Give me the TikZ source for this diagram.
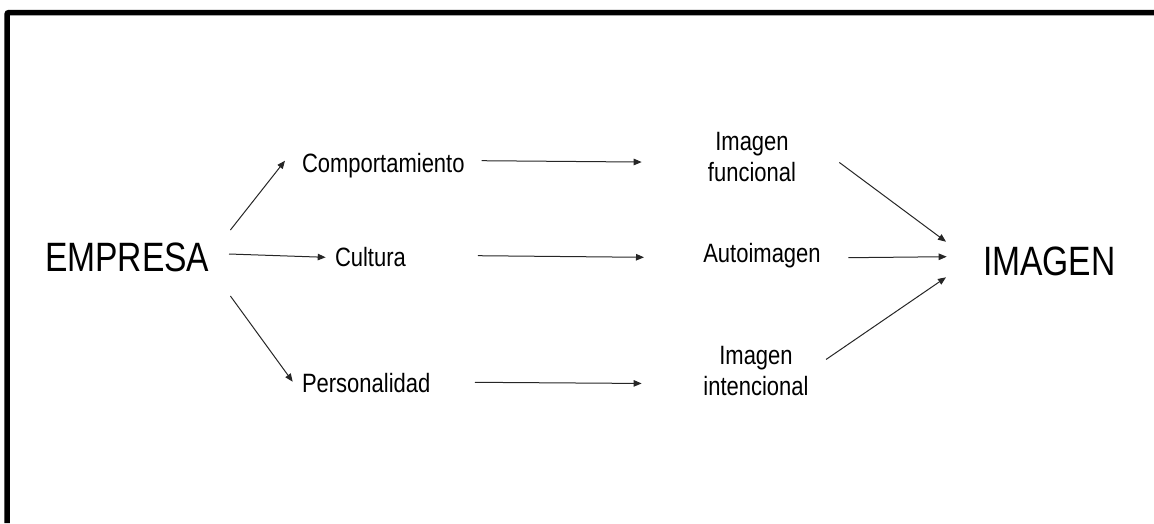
\documentclass[tikz,border=0pt]{standalone}
\usepackage{fontspec}
\setmainfont{Liberation Sans}
\newfontfamily\smallfam[FakeStretch=0.83]{Liberation Sans}
\newfontfamily\bigfam[FakeStretch=0.82]{Liberation Sans}
\usetikzlibrary{arrows.meta,calc}
\begin{document}
\begin{tikzpicture}[x=1pt,y=-1pt,
  lbl/.style={inner sep=0pt,outer sep=0pt,font=\smallfam\fontsize{26.5}{31}\selectfont},
  lbl2/.style={lbl,align=center},
  big/.style={inner sep=0pt,outer sep=0pt,font=\bigfam\fontsize{41}{48}\selectfont},
  arr/.style={draw=black!85,line width=1pt,-{Triangle[length=8pt,width=6.5pt]}},
  frame/.style={line width=5.5pt,rounded corners=2pt}]
\useasboundingbox (0,0) rectangle (1154,523);
\draw[frame] (7,523) -- (7,12.5) -- (1154,12.5);
% nodes
\node[big,anchor=base west] (emp) at (45,271.7) {EMPRESA};
\node[big,anchor=base west] (img) at (983,275) {IMAGEN};
\node[lbl,anchor=base west] (comp) at (302,172.3) {Comportamiento};
\node[lbl,anchor=base west] (cult) at (335,266) {Cultura};
\node[lbl,anchor=base west] (pers) at (302,392) {Personalidad};
\node[lbl2,anchor=north] (func) at (752,132) {Imagen\\funcional};
\node[lbl,anchor=base west] (auto) at (703.3,262.3) {Autoimagen};
\node[lbl2,anchor=north] (inte) at (756,346.5) {Imagen\\intencional};
% left fan
\draw[arr] ($(emp.base east)+(21,-41.7)$) -- ($(comp.base west)+(-17,-11.6)$);
\draw[arr] ($(emp.base east)+(19.6,-17.7)$) -- ($(cult.base west)+(-9.3,-8.7)$);
\draw[arr] ($(emp.base east)+(21,24.3)$) -- ($(pers.base west)+(-9.3,-10.3)$);
% middle
\draw[arr] ($(comp.base east)+(17,-11.6)$) -- ($(func.west)+(-66.3,5.3)$);
\draw[arr] ($(cult.base east)+(72,-10.3)$) -- ($(auto.base west)+(-59.3,-5)$);
\draw[arr] ($(pers.base east)+(44.6,-9.7)$) -- ($(inte.west)+(-61.8,12.2)$);
% right fan
\draw[arr] ($(func.east)+(43.3,5.7)$) -- ($(img.base west)+(-37,-33.3)$);
\draw[arr] ($(auto.base east)+(27.6,-4.6)$) -- ($(img.base west)+(-36.3,-18.3)$);
\draw[arr] ($(inte.east)+(17.5,-11.8)$) -- ($(img.base west)+(-37,2.3)$);
\end{tikzpicture}
\end{document}
